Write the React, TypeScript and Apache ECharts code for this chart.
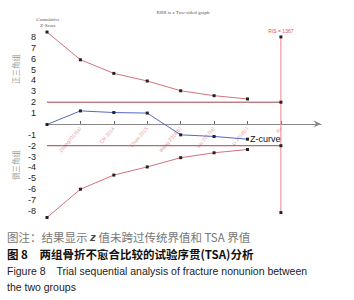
import React, { useEffect, useRef } from "react";
import * as echarts from "echarts";

const studyLabels = ["Zhang2012(a)", "Chi 2014", "Chen 2015", "Wang 2016(b)", "Liu 2017(a)", "Li 2018(c)", "Xu"];
const upperBoundary = [8.45, 5.9, 4.65, 3.95, 3.05, 2.6, 2.3];
const lowerBoundary = [-8.6, -6.0, -4.7, -3.95, -3.1, -2.65, -2.35];
const zCurve = [-0.05, 1.2, 1.05, 1.0, -1.0, -1.15, -1.4];
const conventional = [2, -2];
const risIndex = 7;
const risRange = [8.0, -8.15];
const risLabel = "RIS = 1367";
const yTicks = [-8, -7, -6, -5, -4, -3, -2, -1, 1, 2, 3, 4, 5, 6, 7, 8];
const xTicks = [1, 2, 3, 4, 5, 6, 7];
const title = "RRR is a Two-sided graph";
const yName = "Cumulative\nZ-Score";
const upperGroup = "正三角组";
const lowerGroup = "倒三角组";
const caption1a = "图注：结果显示 ";
const caption1b = "z";
const caption1c = " 值未跨过传统界值和 TSA 界值";
const caption2 = "图 8　两组骨折不愈合比较的试验序贯(TSA)分析";
const caption3 = "Figure 8　Trial sequential analysis of fracture nonunion between";
const caption4 = "the two groups";

const toPairs = (arr: number[]) => arr.map((v, i) => [i, v]);

export default function App() {
  const ref = useRef<HTMLDivElement>(null);
  useEffect(() => {
    if (!ref.current) return;
    const chart = echarts.init(ref.current, undefined, { renderer: "svg" });
    const mk = { symbol: "rect", symbolSize: 3, itemStyle: { color: "#222" } };
    chart.setOption({
      animation: false,
      grid: { left: 47, right: 33, top: 31.5, bottom: 82.5 },
      xAxis: {
        type: "value",
        min: 0,
        max: 8.2,
        axisLine: {
          show: true,
          onZero: true,
          symbol: ["none", "arrow"],
          symbolSize: [5, 7],
          lineStyle: { color: "#8a8a8a", width: 1 },
        },
        axisTick: { show: true, inside: true, length: 3, customValues: xTicks, lineStyle: { color: "#666" } },
        axisLabel: { show: false },
        splitLine: { show: false },
      },
      yAxis: {
        type: "value",
        min: -8.6,
        max: 8.5,
        axisLine: { show: false },
        axisTick: { show: false },
        splitLine: { show: false },
        axisLabel: {
          customValues: yTicks,
          fontSize: 9,
          color: "#222",
          fontFamily: "Liberation Sans",
          margin: 11,
        },
      },
      series: [
        {
          type: "scatter",
          data: xTicks.map((t) => [t, 0]),
          symbolSize: 1,
          itemStyle: { color: "rgba(0,0,0,0)" },
          silent: true,
          label: {
            show: true,
            position: [0, 4],
            align: "right",
            verticalAlign: "middle",
            rotate: 50,
            fontSize: 5,
            color: "#e0707e",
            formatter: (p: any) => studyLabels[p.dataIndex],
          },
          z: 1,
        },
        {
          type: "line",
          data: toPairs(upperBoundary),
          lineStyle: { color: "#d4727c", width: 1 },
          ...mk,
        },
        {
          type: "line",
          data: toPairs(lowerBoundary),
          lineStyle: { color: "#d4727c", width: 1 },
          ...mk,
        },
        ...conventional.map((c) => ({
          type: "line",
          data: [
            { value: [0, c], symbol: "none" },
            { value: [risIndex, c], symbol: "rect" },
          ],
          lineStyle: { color: "#a04848", width: 1 },
          ...mk,
        })),
        {
          type: "line",
          data: [
            {
              value: [risIndex, risRange[0]],
              label: { show: true, position: "top", formatter: risLabel, fontSize: 5, color: "#e05060", distance: 2 },
            },
            { value: [risIndex, risRange[1]] },
          ],
          lineStyle: { color: "#f08088", width: 1 },
          ...mk,
          z: 1,
        },
        {
          type: "line",
          data: toPairs(zCurve).map((p, i) =>
            i === zCurve.length - 1
              ? {
                  value: p,
                  label: {
                    show: true,
                    position: "right",
                    formatter: "Z-curve",
                    fontSize: 9,
                    color: "#111",
                    fontFamily: "Liberation Sans",
                    distance: 1,
                  },
                }
              : { value: p }
          ),
          lineStyle: { color: "#5868c0", width: 1 },
          ...mk,
          z: 3,
        },
      ],
      graphic: [
        {
          type: "text",
          x: 183,
          y: 12,
          style: { text: title, fontSize: 5, fill: "#555", align: "center", verticalAlign: "middle", fontFamily: "Liberation Serif" },
        },
        {
          type: "text",
          x: 48,
          y: 22,
          style: { text: yName, fontSize: 5, fill: "#555", align: "center", verticalAlign: "middle", fontFamily: "Liberation Serif", lineHeight: 6 },
        },
        {
          type: "text",
          x: 15,
          y: 69,
          rotation: Math.PI / 2,
          style: { text: upperGroup, fontSize: 7.5, fill: "#999", align: "center", verticalAlign: "middle", fontFamily: "Noto Sans CJK SC" },
        },
        {
          type: "text",
          x: 15,
          y: 165,
          rotation: Math.PI / 2,
          style: { text: lowerGroup, fontSize: 7.5, fill: "#999", align: "center", verticalAlign: "middle", fontFamily: "Noto Sans CJK SC" },
        },
        {
          type: "text",
          x: 7,
          y: 237,
          style: {
            text: "{a|" + caption1a + "}{b|" + caption1b + "}{a|" + caption1c + "}",
            verticalAlign: "middle",
            rich: {
              a: { fontSize: 11.5, fill: "#777", fontFamily: "Noto Sans CJK SC" },
              b: { fontSize: 11.5, fill: "#444", fontFamily: "Liberation Sans", fontStyle: "italic", fontWeight: "bold" },
            },
          },
        },
        {
          type: "text",
          x: 7,
          y: 254,
          style: { text: caption2, fontSize: 11.5, fill: "#111", fontWeight: "bold", fontFamily: "Noto Sans CJK SC", verticalAlign: "middle" },
        },
        {
          type: "text",
          x: 7,
          y: 271,
          style: { text: caption3, fontSize: 10.5, fill: "#222", fontFamily: "Liberation Sans", verticalAlign: "middle" },
        },
        {
          type: "text",
          x: 7,
          y: 287,
          style: { text: caption4, fontSize: 10.5, fill: "#222", fontFamily: "Liberation Sans", verticalAlign: "middle" },
        },
      ],
    });
    return () => chart.dispose();
  }, []);
  return (
    <div style={{ position: "fixed", left: 0, top: 0, width: 354, height: 300, background: "#fff" }}>
      <div ref={ref} style={{ width: 354, height: 300 }} />
    </div>
  );
}
